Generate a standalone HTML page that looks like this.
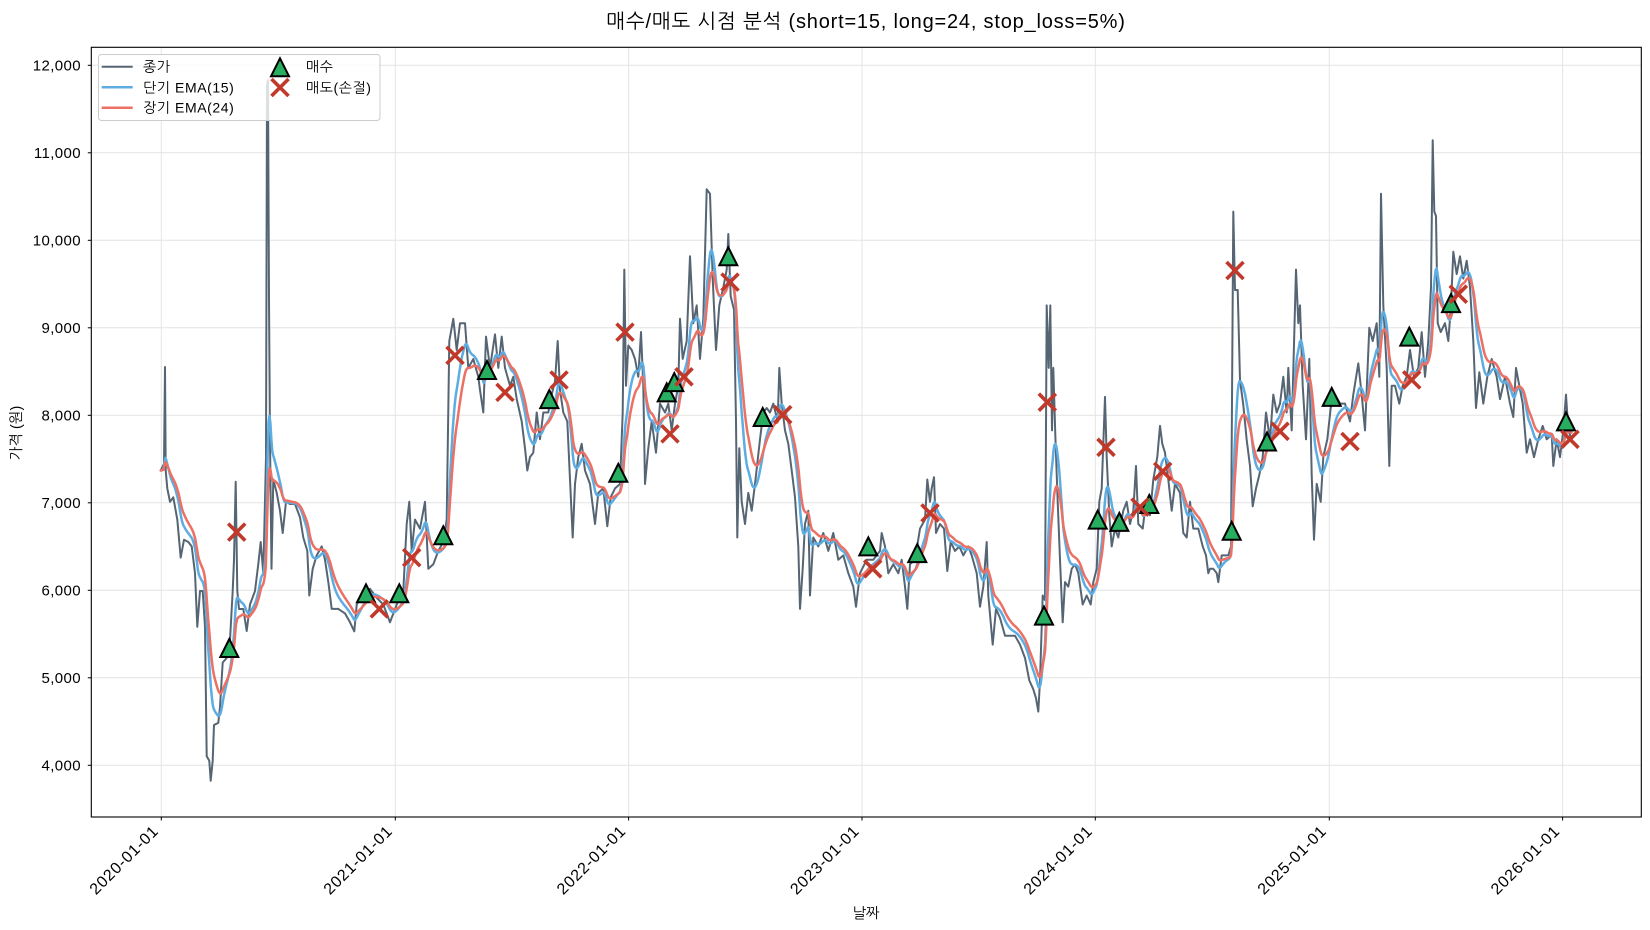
<!DOCTYPE html>
<html>
<head>
<meta charset="utf-8">
<style>
html,body{margin:0;padding:0;background:#fff;}
svg{display:block;}
text{font-family:"Liberation Sans","NanumGothic","Noto Sans CJK KR",sans-serif;fill:#000;}
</style>
</head>
<body>
<svg id="chart" width="1650" height="930" viewBox="0 0 1650 930" xmlns="http://www.w3.org/2000/svg">
<defs>
<clipPath id="clip"><rect x="91.3" y="47.3" width="1550" height="769.7"/></clipPath>
<g id="buy"><polygon points="0,-9 -9,9 9,9" fill="#27ae60" stroke="#000" stroke-width="2" stroke-linejoin="miter"/></g>
<g id="sell"><path d="M-8.5,-8.5 L8.5,8.5 M8.5,-8.5 L-8.5,8.5" stroke="#c0392b" stroke-width="3.6" fill="none"/></g>
</defs>

<!-- title -->
<text x="866" y="28" font-size="20" letter-spacing="0.8" text-anchor="middle">매수/매도 시점 분석 (short=15, long=24, stop_loss=5%)</text>

<!-- grid -->
<g stroke="#e4e4e4" stroke-width="1">
<line x1="91.3" x2="1641.3" y1="65.3" y2="65.3"/>
<line x1="91.3" x2="1641.3" y1="152.8" y2="152.8"/>
<line x1="91.3" x2="1641.3" y1="240.3" y2="240.3"/>
<line x1="91.3" x2="1641.3" y1="327.8" y2="327.8"/>
<line x1="91.3" x2="1641.3" y1="415.3" y2="415.3"/>
<line x1="91.3" x2="1641.3" y1="502.8" y2="502.8"/>
<line x1="91.3" x2="1641.3" y1="590.3" y2="590.3"/>
<line x1="91.3" x2="1641.3" y1="677.8" y2="677.8"/>
<line x1="91.3" x2="1641.3" y1="765.3" y2="765.3"/>
<line y1="47.3" y2="817" x1="161.3" x2="161.3"/>
<line y1="47.3" y2="817" x1="395.3" x2="395.3"/>
<line y1="47.3" y2="817" x1="628.6" x2="628.6"/>
<line y1="47.3" y2="817" x1="862.0" x2="862.0"/>
<line y1="47.3" y2="817" x1="1095.3" x2="1095.3"/>
<line y1="47.3" y2="817" x1="1329.3" x2="1329.3"/>
<line y1="47.3" y2="817" x1="1562.6" x2="1562.6"/>
</g>

<g clip-path="url(#clip)" fill="none" stroke-linejoin="round" stroke-linecap="round">
<polyline id="close" stroke="#566573" stroke-width="2" points="160.7,470.5 164,463.8 165,367 165.7,470.5 167.3,488.4 170,501.8 173.3,497.3 177.3,519.6 180.7,557.6 184,539.7 188.3,542 191.7,546.4 195,573.2 197.3,626.8 200,591 202.7,591 205,626.8 206.7,756.3 209.3,760.7 210.7,780.8 212.7,760.7 214,725 218.3,722.8 220,707 222.7,662.5 226.7,658 230,640 232.7,591 234,559.8 235.7,481.7 237.3,591 239,609 243.3,609 246.7,631 250,604.5 255,591 258.3,564 260.7,542 263.3,573.2 266,457 267,85 268,80 269,300 270,440 271.5,568.8 273.3,479.5 276.7,492.9 280,510.7 282.7,533 286,501.8 290,504 295,504 300,517.4 303.3,537.5 307.3,550.9 309.3,595.5 312.7,568.8 316.7,555.4 321.7,546.4 325,559.8 328.3,582 331.7,608.9 338.3,608.9 345,613.4 350,622.3 354.3,631.3 356.7,604.5 363.3,593.3 370,588.8 376.7,597.8 383.3,604.5 390,622.3 396.7,604.5 403.3,591 406.7,524 409.3,501.8 411.7,550.9 415,519.6 420,528.6 425,501.8 428.3,568.8 433.3,564.3 438.3,550.9 443.3,542 446.7,519.6 449.3,341 453.3,318.8 456.7,350 460,323.2 465,323.2 468.3,367.9 473.3,359 478.3,376.8 480,390 483.3,412.5 486,336.6 490,367.9 495,334.4 498.3,367.9 501.7,336.6 505,367.9 510,385.7 513.3,376.8 516.7,399 521.7,421.4 525,448.2 527.3,470.5 530,457 533.3,452.7 536.7,412.5 540,439.3 543.3,412.5 548.3,412.5 551.7,394.6 555,381.3 557.7,341 560,390 563.3,412.5 567.3,421.4 570,479.5 572.7,537.5 575,484 578.3,457 581.7,443.8 585,470.5 590,484 595,524 598.3,492.9 603.3,488.4 607.3,526.3 610.7,497.3 615,488.4 620,484 622.7,412.5 624.3,269.6 626,385.7 628.3,345.5 631.7,350 635,359 638.3,376.8 641,332 643.3,385.7 645,484 648.3,448.2 651.7,421.4 656,452.7 660,403.6 665,412.5 668.3,403.6 671.7,430.4 675,403.6 678.3,385.7 680,318.8 682.7,358.9 686.7,341 690,256.3 693.3,323.2 696.7,305.4 700,358.9 703.3,318.8 706.7,189.3 710,193.8 712.7,278.6 716,350 719.3,305.4 723.3,287.5 726.7,269.6 728.3,234 730.7,296.4 734,309.8 736,421.4 737.3,537.5 739.3,448.2 741.7,501.8 745,524 748.3,492.9 751.7,510.7 755,484 760,439.3 763.3,412.5 766.7,408 770,412.5 773.3,403.6 777.7,421.4 779.3,367.9 781.7,403.6 785,430.4 788.3,443.8 791.7,470.5 795,497.3 798.3,546.4 800,608.9 802.7,568.8 805,524 808.3,510.7 810,595.5 813.3,537.5 818.3,546.4 823.3,533 828.3,550.9 833.3,533 838.3,559.8 843.3,555.4 848.3,573.2 853.3,586.6 856,606.7 860,573.2 866.7,559.8 873.3,559.8 880,550.9 881.7,533 885,546.4 888.3,573.2 893.3,564.3 898.3,573.2 901.7,559.8 905,586.6 907.3,608.9 910,564.3 915,559.8 920,528.6 925,519.6 927.3,479.5 930,501.8 931.7,488.4 934,477.2 936,533 940,524 944,528.6 947.3,571 950.7,542 955,550.9 959.3,546.4 963.3,555.4 968.3,546.4 971.7,555.4 976.7,573.2 980,606.7 983.3,586.6 986.7,542 988.3,595.5 992.7,644.6 996,608.9 1000,617.9 1005,635.7 1010,635.7 1015,635.7 1020,644.6 1025,658 1029.3,680.4 1033.3,689.3 1036,698.2 1038.3,711.6 1040,680.4 1042.7,595.5 1045,600 1046.7,305.4 1048.7,367.9 1050.3,305.4 1052,430.4 1053.3,367.9 1055.3,434.8 1057.7,501.8 1060,559.8 1062.7,622.3 1065,582.1 1068.3,586.6 1071.7,568.8 1075,564.3 1078.3,573.2 1082.7,604.5 1086.7,595.5 1090.7,604.5 1093.3,582.1 1096.7,568.8 1099.3,501.8 1101.7,488.4 1105,396.9 1106.7,457.1 1109.3,515.2 1111.7,546.4 1115,528.6 1118.3,537.5 1123.3,510.7 1126.7,501.8 1130,524 1133.3,510.7 1136,466 1138.3,524 1142.7,528.6 1146,501.8 1150,515.2 1153.3,479.5 1157.3,457.1 1160,425.9 1162.3,443.8 1165,452.7 1168.3,479.5 1171.7,510.7 1175,483.9 1180,492.9 1183.3,533 1186.7,537.5 1190,501.8 1193.3,528.6 1198.3,528.6 1202.7,546.4 1206,555.4 1208.3,573.2 1210,568.8 1213.3,568.8 1216.7,573.2 1218.3,582.1 1221.7,555.4 1225,555.4 1228.3,555.4 1231,546.4 1233.3,211.6 1235,290 1237.7,290 1240,380 1243.3,405 1246.7,440 1250,466 1252.7,506.3 1256,488.4 1259.3,475 1262.7,457.1 1266,412.5 1270,439.3 1273.3,394.6 1276.7,412.5 1280,403.6 1283.3,376.8 1286.7,412.5 1288.3,367.9 1291.7,430.4 1296,269.6 1298.3,323.2 1300,305.4 1302.7,385.7 1306,439.3 1309.3,358.9 1311.7,475 1314,539.7 1316.7,483.9 1320.7,501.8 1323.3,457.1 1327.3,439.3 1330.7,408 1335,394.6 1340,403.6 1345,403.6 1350,421.4 1353.3,394.6 1358.3,363.4 1361.7,394.6 1365,430.4 1369.3,327.7 1372.7,341 1376.7,323.2 1379.3,376.8 1381,193.8 1383.3,305.4 1386.7,367.9 1389.3,466 1391.7,385.7 1395,385.7 1399.3,403.6 1402.7,385.7 1406.7,376.8 1410,350 1414,376.8 1418.3,367.9 1421.7,332.1 1425,376.8 1428.3,341 1431,287.5 1432.7,140.2 1434.3,211.6 1436,216 1437.7,323.2 1440.7,332.1 1445,323.2 1448.3,341 1451,305.4 1453.3,251.8 1456.7,274.1 1460,256.3 1463.3,278.6 1466.7,260.7 1470,287.5 1473.3,341 1476,408 1479.3,372.3 1483.3,403.6 1487.3,376.8 1491.7,359 1496.7,376.8 1500,399.1 1505,376.8 1510,403.6 1513.3,417 1516,367.9 1519.3,385.7 1522.7,403.6 1526.7,452.7 1530,439.3 1534,457.1 1538.3,439.3 1542.7,425.9 1546.7,439.3 1551.7,434.8 1553.3,466 1556.7,439.3 1560,457.1 1563.3,430.4 1566,394.6 1568.3,430.4 1571.7,439.3"/>
<polyline id="ema15" stroke="#5dade2" stroke-width="2.5" points=""/>
<polyline id="ema24" stroke="#ec7063" stroke-width="2.5" points=""/>
</g>

<!-- buy markers -->
<g>
<use href="#buy" x="229.3" y="648"/>
<use href="#buy" x="366" y="593.3"/>
<use href="#buy" x="399.3" y="593.3"/>
<use href="#buy" x="443.3" y="535.3"/>
<use href="#buy" x="487" y="370"/>
<use href="#buy" x="549.3" y="399.1"/>
<use href="#buy" x="618.3" y="472.8"/>
<use href="#buy" x="666.7" y="392.4"/>
<use href="#buy" x="674.3" y="382.1"/>
<use href="#buy" x="728.3" y="256.3"/>
<use href="#buy" x="762.7" y="417"/>
<use href="#buy" x="868.3" y="546.4"/>
<use href="#buy" x="917.3" y="553.1"/>
<use href="#buy" x="1044" y="615.6"/>
<use href="#buy" x="1097.7" y="519.6"/>
<use href="#buy" x="1119.3" y="521.9"/>
<use href="#buy" x="1149.3" y="504"/>
<use href="#buy" x="1231.7" y="530.8"/>
<use href="#buy" x="1267" y="441.5"/>
<use href="#buy" x="1331.7" y="396.9"/>
<use href="#buy" x="1409.3" y="336.6"/>
<use href="#buy" x="1451" y="303.1"/>
<use href="#buy" x="1566" y="421.4"/>
</g>
<!-- sell markers -->
<g>
<use href="#sell" x="236.7" y="532.1"/>
<use href="#sell" x="379.3" y="608.9"/>
<use href="#sell" x="411.7" y="557.6"/>
<use href="#sell" x="455" y="355.4"/>
<use href="#sell" x="505" y="392.4"/>
<use href="#sell" x="559" y="380"/>
<use href="#sell" x="625" y="332.1"/>
<use href="#sell" x="670" y="433.9"/>
<use href="#sell" x="684" y="376.8"/>
<use href="#sell" x="730" y="282.1"/>
<use href="#sell" x="782.7" y="414.7"/>
<use href="#sell" x="872.7" y="568.8"/>
<use href="#sell" x="930" y="513"/>
<use href="#sell" x="1047.3" y="402.2"/>
<use href="#sell" x="1106" y="447.3"/>
<use href="#sell" x="1140" y="507.1"/>
<use href="#sell" x="1162.7" y="471.4"/>
<use href="#sell" x="1235" y="270.5"/>
<use href="#sell" x="1280" y="431.3"/>
<use href="#sell" x="1350" y="441.5"/>
<use href="#sell" x="1411.7" y="379.9"/>
<use href="#sell" x="1458.3" y="294.2"/>
<use href="#sell" x="1570" y="439.3"/>
</g>

<!-- axes frame -->
<rect x="91.3" y="47.3" width="1550" height="769.7" fill="none" stroke="#000" stroke-width="1.1"/>

<!-- ticks -->
<g stroke="#000" stroke-width="1">
<line x1="87.8" x2="91.3" y1="65.3" y2="65.3"/>
<line x1="87.8" x2="91.3" y1="152.8" y2="152.8"/>
<line x1="87.8" x2="91.3" y1="240.3" y2="240.3"/>
<line x1="87.8" x2="91.3" y1="327.8" y2="327.8"/>
<line x1="87.8" x2="91.3" y1="415.3" y2="415.3"/>
<line x1="87.8" x2="91.3" y1="502.8" y2="502.8"/>
<line x1="87.8" x2="91.3" y1="590.3" y2="590.3"/>
<line x1="87.8" x2="91.3" y1="677.8" y2="677.8"/>
<line x1="87.8" x2="91.3" y1="765.3" y2="765.3"/>
<line y1="817" y2="820.5" x1="161.3" x2="161.3"/>
<line y1="817" y2="820.5" x1="395.3" x2="395.3"/>
<line y1="817" y2="820.5" x1="628.6" x2="628.6"/>
<line y1="817" y2="820.5" x1="862.0" x2="862.0"/>
<line y1="817" y2="820.5" x1="1095.3" x2="1095.3"/>
<line y1="817" y2="820.5" x1="1329.3" x2="1329.3"/>
<line y1="817" y2="820.5" x1="1562.6" x2="1562.6"/>
</g>
<g font-size="15" text-anchor="end" letter-spacing="0.4">
<text x="81" y="70.5">12,000</text>
<text x="81" y="158">11,000</text>
<text x="81" y="245.5">10,000</text>
<text x="81" y="333">9,000</text>
<text x="81" y="420.5">8,000</text>
<text x="81" y="508">7,000</text>
<text x="81" y="595.5">6,000</text>
<text x="81" y="683">5,000</text>
<text x="81" y="770.5">4,000</text>
</g>
<g font-size="16" text-anchor="end" letter-spacing="0.8">
<text transform="translate(159.5,832) rotate(-45)">2020-01-01</text>
<text transform="translate(393.5,832) rotate(-45)">2021-01-01</text>
<text transform="translate(626.8,832) rotate(-45)">2022-01-01</text>
<text transform="translate(860.2,832) rotate(-45)">2023-01-01</text>
<text transform="translate(1093.5,832) rotate(-45)">2024-01-01</text>
<text transform="translate(1327.5,832) rotate(-45)">2025-01-01</text>
<text transform="translate(1560.8,832) rotate(-45)">2026-01-01</text>
</g>

<!-- axis labels -->
<text x="866" y="918" font-size="14.5" text-anchor="middle">날짜</text>
<text transform="translate(21,433) rotate(-90)" font-size="14.5" text-anchor="middle">가격 (원)</text>

<!-- legend -->
<g>
<rect x="98.5" y="54.5" width="281.5" height="66" rx="3" ry="3" fill="#fff" fill-opacity="0.8" stroke="#cccccc" stroke-width="1"/>
<line x1="101.7" x2="132.7" y1="66.7" y2="66.7" stroke="#566573" stroke-width="2"/>
<line x1="101.7" x2="132.7" y1="87.3" y2="87.3" stroke="#5dade2" stroke-width="2.5"/>
<line x1="101.7" x2="132.7" y1="107.7" y2="107.7" stroke="#ec7063" stroke-width="2.5"/>
<g font-size="14" letter-spacing="0.6">
<text x="143" y="71.7">종가</text>
<text x="143" y="92.3">단기 EMA(15)</text>
<text x="143" y="112.7">장기 EMA(24)</text>
<text x="306" y="71.7">매수</text>
<text x="306" y="92.3">매도(손절)</text>
</g>
<use href="#buy" x="280" y="67.3"/>
<use href="#sell" x="280" y="87.5"/>
</g>
</svg>
<script>
(function(){
  var raw=document.getElementById('close').getAttribute('points').trim().split(/\s+/);
  var s=[];
  for(var i=0;i<raw.length;i++){var a=raw[i].split(',');s.push([parseFloat(a[0]),parseFloat(a[1])]);}
  var step=0.93,xs=[],ys=[],j=0,last=s[s.length-1][0];
  for(var x=s[0][0];x<=last+1e-6;x+=step){
    while(j<s.length-2&&s[j+1][0]<x)j++;
    var A=s[j],B=s[j+1],d=B[0]-A[0],t=d>0?(x-A[0])/d:0;
    if(t<0)t=0;if(t>1)t=1;
    xs.push(x);ys.push(A[1]+(B[1]-A[1])*t);
  }
  function ema(n){
    var al=2/(n+1),e=ys[0],out=[];
    for(var k=0;k<ys.length;k++){e=al*ys[k]+(1-al)*e;out.push(xs[k].toFixed(1)+','+e.toFixed(1));}
    return out.join(' ');
  }
  document.getElementById('ema15').setAttribute('points',ema(15));
  document.getElementById('ema24').setAttribute('points',ema(24));
})();
</script>
</body>
</html>
